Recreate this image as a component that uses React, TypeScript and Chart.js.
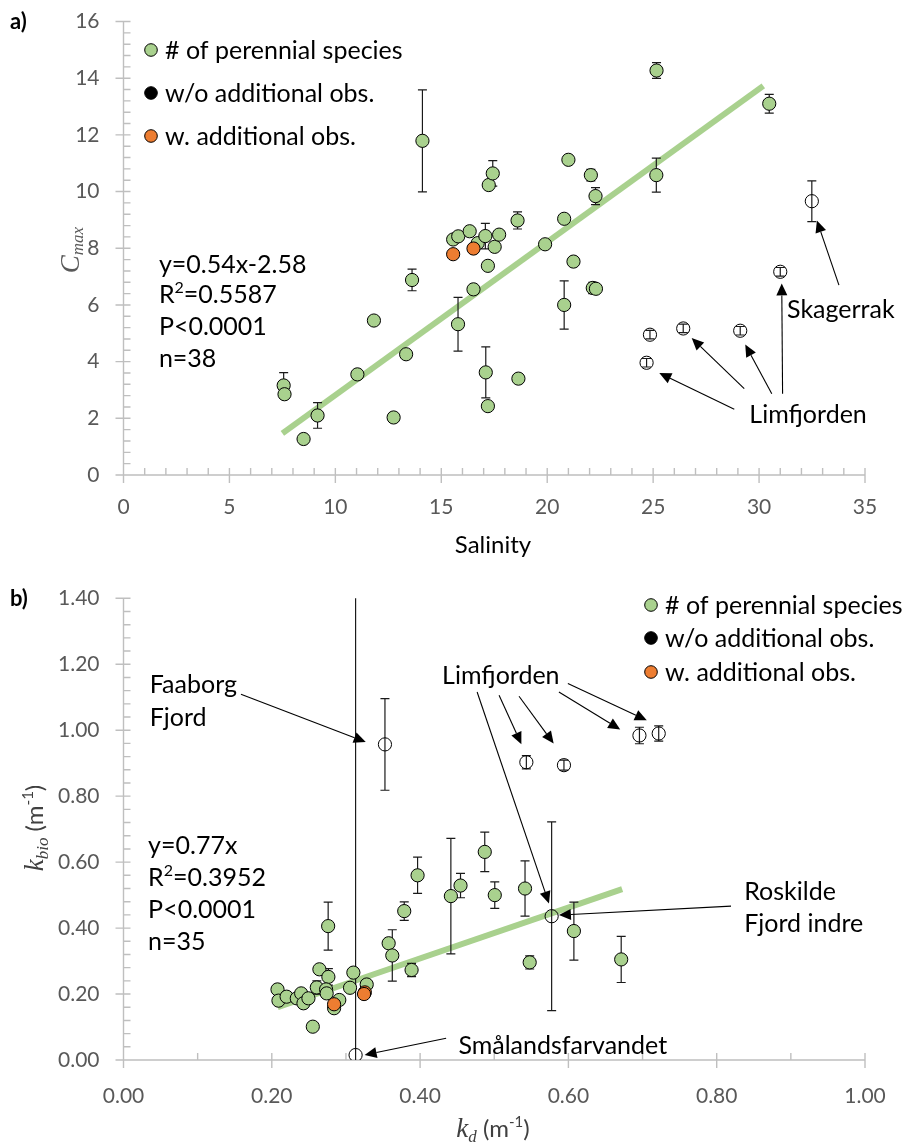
import React, { useEffect, useRef } from 'react';
import { Chart, registerables } from 'chart.js';
Chart.register(...registerables);

const FONT = 'Lato, "Open Sans", sans-serif';
const SERIF = '"Liberation Serif", "DejaVu Serif", serif';
const GREEN = '#a9d18e';
const ORANGE = '#ed7d31';

// ---------------- Panel a) data ----------------
const aXRange = [0, 35];
const aYRange = [0, 16];
const aXStep = 5;
const aYStep = 2;

const aGreenX = [7.56, 7.6, 8.5, 9.16, 11.04, 11.82, 12.75, 13.34, 13.62, 14.11, 15.56, 15.8, 15.79, 16.34, 16.72, 16.52, 17.08, 17.24, 17.43, 17.2, 17.1, 17.2, 17.52, 17.73, 18.6, 18.64, 19.9, 20.8, 21.0, 20.8, 21.24, 22.06, 22.28, 22.15, 22.3, 25.16, 25.15, 30.48];
const aGreenY = [3.16, 2.85, 1.27, 2.1, 3.55, 5.45, 2.03, 4.26, 6.88, 11.79, 8.31, 8.42, 5.32, 8.6, 8.18, 6.55, 8.43, 10.23, 10.64, 7.38, 3.62, 2.43, 8.05, 8.48, 8.98, 3.4, 8.14, 9.04, 11.12, 6.0, 7.53, 10.58, 9.84, 6.6, 6.57, 14.27, 10.58, 13.1];
const aGreenErr = [0.45, 0, 0, 0.45, 0, 0, 0, 0, 0.38, 1.8, 0, 0, 0.95, 0.15, 0, 0, 0.45, 0, 0.45, 0, 0.9, 0, 0, 0, 0.3, 0, 0, 0, 0, 0.85, 0, 0.2, 0.3, 0.2, 0.12, 0.28, 0.6, 0.33];

const aOrangeX = [15.56, 16.52];
const aOrangeY = [7.79, 7.99];
const aOrangeErr = [0, 0];

const aOpenX = [24.69, 24.85, 26.42, 29.11, 31.0, 32.49];
const aOpenY = [3.96, 4.95, 5.17, 5.09, 7.17, 9.66];
const aOpenErr = [0.15, 0.15, 0.15, 0.15, 0.15, 0.72];

const aFitX = [7.5, 30.2];
const aFitY = [1.47, 13.73];

const aArrows = [
  { from: [33.77, 6.7], to: [32.73, 8.98] },
  { from: [28.83, 2.32], to: [25.29, 3.6] },
  { from: [29.3, 3.05], to: [26.82, 4.83] },
  { from: [30.6, 2.87], to: [29.35, 4.6] },
  { from: [31.11, 2.87], to: [31.07, 6.76] },
];
const aTexts = [
  { text: 'Skagerrak', x: 31.32, y: 5.86 },
  { text: 'Limfjorden', x: 29.54, y: 2.14 },
  { text: 'y=0.54x-2.58', x: 1.67, y: 7.46 },
  { text: 'R|2|=0.5587', x: 1.67, y: 6.38 },
  { text: 'P<0.0001', x: 1.67, y: 5.24 },
  { text: 'n=38', x: 1.67, y: 4.13 },
];

// ---------------- Panel b) data ----------------
const bXRange = [0, 1];
const bYRange = [0, 1.4];
const bXStep = 0.2;
const bYStep = 0.2;

const bGreenX = [0.2077, 0.209, 0.22, 0.2337, 0.2396, 0.2427, 0.2494, 0.2553, 0.2642, 0.2763, 0.2607, 0.2732, 0.274, 0.291, 0.284, 0.276, 0.31, 0.3055, 0.328, 0.3576, 0.3625, 0.3885, 0.3786, 0.3966, 0.4415, 0.4545, 0.4872, 0.5007, 0.5415, 0.5478, 0.6074, 0.6712];
const bGreenY = [0.214, 0.18, 0.192, 0.187, 0.202, 0.172, 0.187, 0.101, 0.275, 0.252, 0.22, 0.214, 0.202, 0.182, 0.157, 0.406, 0.265, 0.219, 0.229, 0.354, 0.317, 0.273, 0.4515, 0.56, 0.497, 0.529, 0.631, 0.5, 0.52, 0.296, 0.391, 0.305];
const bGreenErr = [0, 0, 0, 0, 0, 0, 0, 0, 0, 0.025, 0.02, 0, 0, 0, 0, 0.073, 0, 0, 0, 0, 0.078, 0.02, 0.028, 0.055, 0.175, 0.037, 0.06, 0.04, 0.084, 0.02, 0.088, 0.07];

const bOrangeX = [0.284, 0.3255, 0.3244];
const bOrangeY = [0.169, 0.205, 0.2];
const bOrangeErr = [0, 0, 0];

const bOpenX = [0.3526, 0.313, 0.5774, 0.5433, 0.594, 0.6958, 0.7218];
const bOpenY = [0.957, 0.015, 0.436, 0.903, 0.894, 0.984, 0.99];
const bOpenErr = [0.139, 1.6, 0.286, 0.02, 0.015, 0.025, 0.023];

const bFitX = [0.208, 0.6725];
const bFitY = [0.16, 0.518];

const bArrows = [
  { from: [0.1584, 1.109], to: [0.3267, 0.9645] },
  { from: [0.5065, 1.106], to: [0.5366, 0.9576] },
  { from: [0.5334, 1.103], to: [0.5801, 0.9597] },
  { from: [0.5872, 1.116], to: [0.6699, 1.002] },
  { from: [0.5993, 1.1415], to: [0.7057, 1.0303] },
  { from: [0.4769, 1.116], to: [0.5738, 0.4748] },
  { from: [0.8193, 0.4667], to: [0.5872, 0.4394] },
  { from: [0.4351, 0.0658], to: [0.3252, 0.0152] },
];
const bTexts = [
  { text: 'Faaborg', x: 0.0354, y: 1.1415 },
  { text: 'Fjord', x: 0.0354, y: 1.0403 },
  { text: 'Limfjorden', x: 0.4297, y: 1.1667 },
  { text: 'Roskilde', x: 0.8371, y: 0.5121 },
  { text: 'Fjord indre', x: 0.8371, y: 0.4142 },
  { text: 'Smålandsfarvandet', x: 0.4517, y: 0.0455 },
  { text: 'y=0.77x', x: 0.0332, y: 0.6515 },
  { text: 'R|2|=0.3952', x: 0.0332, y: 0.5545 },
  { text: 'P<0.0001', x: 0.0332, y: 0.4576 },
  { text: 'n=35', x: 0.0332, y: 0.3606 },
];

const legendLabels = ['# of perennial species', 'w/o additional obs.', 'w. additional obs.'];
const legendColors = [GREEN, '#000000', ORANGE];

// ---------------- helpers ----------------
type Seg = { t: string; font: string; dy?: number };
function drawRich(ctx: CanvasRenderingContext2D, segs: Seg[], x: number, y: number, align: 'left' | 'center') {
  let w = 0;
  for (const s of segs) { ctx.font = s.font; w += ctx.measureText(s.t).width; }
  let cx = align === 'center' ? x - w / 2 : x;
  ctx.textAlign = 'left';
  ctx.textBaseline = 'alphabetic';
  for (const s of segs) {
    ctx.font = s.font;
    ctx.fillText(s.t, cx, y + (s.dy || 0));
    cx += ctx.measureText(s.t).width;
  }
}

function drawArrow(ctx: CanvasRenderingContext2D, x1: number, y1: number, x2: number, y2: number) {
  const ang = Math.atan2(y2 - y1, x2 - x1);
  const L = 12, W = 5.5;
  const bx = x2 - L * Math.cos(ang), by = y2 - L * Math.sin(ang);
  ctx.beginPath(); ctx.moveTo(x1, y1); ctx.lineTo(bx, by); ctx.stroke();
  ctx.beginPath(); ctx.moveTo(x2, y2);
  ctx.lineTo(bx + W * Math.sin(ang), by - W * Math.cos(ang));
  ctx.lineTo(bx - W * Math.sin(ang), by + W * Math.cos(ang));
  ctx.closePath(); ctx.fill();
}

type PanelCfg = {
  xMinor: number; xMajorEvery: number; yMinor: number; yMajorEvery: number;
  arrows: { from: number[]; to: number[] }[];
  texts: { text: string; x: number; y: number }[];
  legend: { x: number; y: number[] };
  panelLabel: { t: string; x: number; y: number };
  xTitle: (ctx: CanvasRenderingContext2D, chart: any) => void;
  yTitle: (ctx: CanvasRenderingContext2D, chart: any) => void;
  fitIndex: number;
};

function makePlugin(cfg: PanelCfg) {
  return {
    id: 'panelDecor',
    beforeDatasetsDraw(chart: any) {
      const { ctx, chartArea, scales } = chart;
      const { left, right, top, bottom } = chartArea;
      const xs = scales.x, ys = scales.y;
      ctx.save();
      ctx.strokeStyle = '#bfbfbf';
      ctx.lineWidth = 1.4;
      ctx.beginPath();
      ctx.moveTo(left, top); ctx.lineTo(left, bottom);
      ctx.moveTo(left - 7, bottom); ctx.lineTo(right, bottom);
      const nx = Math.round((xs.max - xs.min) / cfg.xMinor);
      for (let i = 0; i <= nx; i++) {
        const px = xs.getPixelForValue(xs.min + i * cfg.xMinor);
        const major = i % cfg.xMajorEvery === 0;
        ctx.moveTo(px, bottom - 7); ctx.lineTo(px, major ? bottom + 8 : bottom);
      }
      const ny = Math.round((ys.max - ys.min) / cfg.yMinor);
      for (let i = 0; i <= ny; i++) {
        const py = ys.getPixelForValue(ys.min + i * cfg.yMinor);
        const major = i % cfg.yMajorEvery === 0;
        ctx.moveTo(major ? left - 8 : left, py); ctx.lineTo(left + 7, py);
      }
      ctx.stroke();
      ctx.restore();
    },
    afterDatasetDraw(chart: any, args: any) {
      if (args.index !== cfg.fitIndex) return;
      const { ctx, chartArea, scales } = chart;
      ctx.save();
      ctx.beginPath();
      ctx.rect(chartArea.left, chartArea.top, chartArea.right - chartArea.left, chartArea.bottom - chartArea.top);
      ctx.clip();
      ctx.strokeStyle = '#1a1a1a';
      ctx.lineWidth = 1.2;
      chart.data.datasets.forEach((ds: any, di: number) => {
        if (!ds.err) return;
        const meta = chart.getDatasetMeta(di);
        ds.data.forEach((p: any, i: number) => {
          const e = ds.err[i];
          if (!e) return;
          const px = meta.data[i].x;
          const y1 = scales.y.getPixelForValue(p.y + e);
          const y2 = scales.y.getPixelForValue(p.y - e);
          ctx.beginPath();
          ctx.moveTo(px, y1); ctx.lineTo(px, y2);
          ctx.moveTo(px - 4.5, y1); ctx.lineTo(px + 4.5, y1);
          ctx.moveTo(px - 4.5, y2); ctx.lineTo(px + 4.5, y2);
          ctx.stroke();
        });
      });
      ctx.restore();
    },
    afterDraw(chart: any) {
      const { ctx, scales } = chart;
      const xs = scales.x, ys = scales.y;
      ctx.save();
      ctx.strokeStyle = '#000';
      ctx.fillStyle = '#000';
      ctx.lineWidth = 1.1;
      cfg.arrows.forEach((a) => {
        drawArrow(ctx, xs.getPixelForValue(a.from[0]), ys.getPixelForValue(a.from[1]),
          xs.getPixelForValue(a.to[0]), ys.getPixelForValue(a.to[1]));
      });
      ctx.fillStyle = '#000';
      const f = `25px ${FONT}`;
      cfg.texts.forEach((t) => {
        const px = xs.getPixelForValue(t.x);
        const py = ys.getPixelForValue(t.y) + 9;
        const parts = t.text.split('|');
        const segs: Seg[] = parts.length === 3
          ? [{ t: parts[0], font: f }, { t: parts[1], font: `16px ${FONT}`, dy: -10 }, { t: parts[2], font: f }]
          : [{ t: t.text, font: f }];
        drawRich(ctx, segs, px, py, 'left');
      });
      // legend
      legendLabels.forEach((lab, i) => {
        const ly = cfg.legend.y[i];
        ctx.beginPath();
        ctx.arc(cfg.legend.x, ly, 6.3, 0, Math.PI * 2);
        ctx.fillStyle = legendColors[i];
        ctx.fill();
        ctx.lineWidth = 1;
        ctx.strokeStyle = '#000';
        ctx.stroke();
        ctx.fillStyle = '#000';
        drawRich(ctx, [{ t: lab, font: f }], cfg.legend.x + 14, ly + 9, 'left');
      });
      // panel label
      ctx.fillStyle = '#000';
      drawRich(ctx, [{ t: cfg.panelLabel.t, font: `bold 22px ${FONT}` }], cfg.panelLabel.x, cfg.panelLabel.y, 'left');
      cfg.xTitle(ctx, chart);
      cfg.yTitle(ctx, chart);
      ctx.restore();
    },
  };
}

function pts(xs: number[], ys: number[]) {
  return xs.map((x, i) => ({ x, y: ys[i] }));
}

function pointDs(label: string, xs: number[], ys: number[], err: number[], fill: string) {
  return {
    label,
    data: pts(xs, ys),
    err,
    showLine: false,
    pointRadius: 6.6,
    pointBackgroundColor: fill,
    pointBorderColor: '#000',
    pointBorderWidth: 1,
    order: 0,
  } as any;
}

function fitDs(xs: number[], ys: number[]) {
  return {
    label: 'fit',
    data: pts(xs, ys),
    showLine: true,
    borderColor: GREEN,
    borderWidth: 6,
    pointRadius: 0,
    order: 10,
  } as any;
}

function tickFont() {
  return { family: FONT, size: 21 };
}

function fixY(s: any) {
  s.width = 123.5;
  s.paddingTop = 0;
  s.paddingBottom = 0;
}

export default function App() {
  const ref1 = useRef<HTMLCanvasElement>(null);
  const ref2 = useRef<HTMLCanvasElement>(null);

  useEffect(() => {
    const H1 = 575, H2 = 571;
    const c1 = new Chart(ref1.current as HTMLCanvasElement, {
      type: 'scatter',
      data: {
        datasets: [
          fitDs(aFitX, aFitY),
          pointDs('w. additional obs.', aOrangeX, aOrangeY, aOrangeErr, ORANGE),
          pointDs('# of perennial species', aGreenX, aGreenY, aGreenErr, GREEN),
          pointDs('w/o additional obs.', aOpenX, aOpenY, aOpenErr, 'rgba(0,0,0,0)'),
        ],
      },
      options: {
        animation: false,
        responsive: false,
        events: [],
        layout: { padding: { top: 21.5, right: 45, bottom: 0, left: 0 } },
        plugins: { legend: { display: false }, tooltip: { enabled: false } },
        scales: {
          x: {
            type: 'linear', min: aXRange[0], max: aXRange[1],
            grid: { display: false, drawTicks: false }, border: { display: false },
            ticks: { stepSize: aXStep, color: '#595959', font: tickFont(), padding: 20, maxRotation: 0 },
            afterFit: (s: any) => { s.height = H1 - 475; },
          },
          y: {
            type: 'linear', min: aYRange[0], max: aYRange[1],
            grid: { display: false, drawTicks: false }, border: { display: false },
            ticks: { stepSize: aYStep, color: '#595959', font: tickFont(), padding: 24 },
            afterFit: fixY,
          },
        },
      } as any,
      plugins: [makePlugin({
        xMinor: 1, xMajorEvery: 5, yMinor: 0.4, yMajorEvery: 5,
        arrows: aArrows, texts: aTexts,
        legend: { x: 151, y: [50, 93, 136] },
        panelLabel: { t: 'a)', x: 10, y: 29 },
        fitIndex: 0,
        xTitle: (ctx) => {
          ctx.fillStyle = '#000';
          drawRich(ctx, [{ t: 'Salinity', font: `24px ${FONT}` }], 493, 553, 'center');
        },
        yTitle: (ctx) => {
          ctx.save();
          ctx.translate(79, 250);
          ctx.rotate(-Math.PI / 2);
          ctx.fillStyle = '#595959';
          drawRich(ctx, [
            { t: 'C', font: `italic 27px ${SERIF}` },
            { t: 'max', font: `italic 17px ${SERIF}`, dy: 4 },
          ], 0, 0, 'center');
          ctx.restore();
        },
      })],
    });

    const c2 = new Chart(ref2.current as HTMLCanvasElement, {
      type: 'scatter',
      data: {
        datasets: [
          fitDs(bFitX, bFitY),
          pointDs('w. additional obs.', bOrangeX, bOrangeY, bOrangeErr, ORANGE),
          pointDs('# of perennial species', bGreenX, bGreenY, bGreenErr, GREEN),
          pointDs('w/o additional obs.', bOpenX, bOpenY, bOpenErr, 'rgba(0,0,0,0)'),
        ],
      },
      options: {
        animation: false,
        responsive: false,
        events: [],
        layout: { padding: { top: 23.3, right: 45, bottom: 0, left: 0 } },
        plugins: { legend: { display: false }, tooltip: { enabled: false } },
        scales: {
          x: {
            type: 'linear', min: bXRange[0], max: bXRange[1],
            grid: { display: false, drawTicks: false }, border: { display: false },
            ticks: { stepSize: bXStep, color: '#595959', font: tickFont(), padding: 24, maxRotation: 0, callback: (v: any) => Number(v).toFixed(2) },
            afterFit: (s: any) => { s.height = H2 - 485; },
          },
          y: {
            type: 'linear', min: bYRange[0], max: bYRange[1],
            grid: { display: false, drawTicks: false }, border: { display: false },
            ticks: { stepSize: bYStep, color: '#595959', font: tickFont(), padding: 24, callback: (v: any) => Number(v).toFixed(2) },
            afterFit: fixY,
          },
        },
      } as any,
      plugins: [makePlugin({
        xMinor: 0.1, xMajorEvery: 2, yMinor: 0.04, yMajorEvery: 5,
        arrows: bArrows, texts: bTexts,
        legend: { x: 651, y: [30, 63, 97] },
        panelLabel: { t: 'b)', x: 10, y: 31 },
        fitIndex: 0,
        xTitle: (ctx) => {
          ctx.fillStyle = '#404040';
          drawRich(ctx, [
            { t: 'k', font: `italic 27px ${SERIF}` },
            { t: 'd', font: `italic 17px ${SERIF}`, dy: 5 },
            { t: ' (m', font: `24px ${FONT}` },
            { t: '-1', font: `15px ${FONT}`, dy: -10 },
            { t: ')', font: `24px ${FONT}` },
          ], 493, 562, 'center');
        },
        yTitle: (ctx) => {
          ctx.save();
          ctx.translate(43, 253);
          ctx.rotate(-Math.PI / 2);
          ctx.fillStyle = '#404040';
          drawRich(ctx, [
            { t: 'k', font: `italic 27px ${SERIF}` },
            { t: 'bio', font: `italic 17px ${SERIF}`, dy: 5 },
            { t: ' (m', font: `24px ${FONT}` },
            { t: '-1', font: `15px ${FONT}`, dy: -10 },
            { t: ')', font: `24px ${FONT}` },
          ], 0, 0, 'center');
          ctx.restore();
        },
      })],
    });

    return () => { c1.destroy(); c2.destroy(); };
  }, []);

  return (
    <div style={{ position: 'absolute', left: 0, top: 0, width: 910, height: 1146, background: '#fff' }}>
      <canvas ref={ref1} width={910} height={575} style={{ display: 'block', width: 910, height: 575 }} />
      <canvas ref={ref2} width={910} height={571} style={{ display: 'block', width: 910, height: 571 }} />
    </div>
  );
}
